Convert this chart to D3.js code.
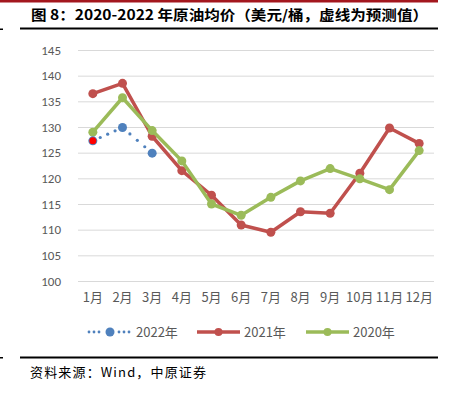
<!DOCTYPE html>
<html>
<head>
<meta charset="utf-8">
<script src="https://cdn.jsdelivr.net/npm/d3@7"></script>
<style>
  body { margin: 0; background: #fff; }
  svg { display: block; }
</style>
</head>
<body>
<div id="chart"></div>
<script>
// months on x axis
var months = ["1月", "2月", "3月", "4月", "5月", "6月", "7月", "8月", "9月", "10月", "11月", "12月"]
var yTicks = [100, 105, 110, 115, 120, 125, 130, 135, 140, 145]

// 2022 (forecast, dotted), 2021, 2020 average oil price
var y2022 = [127.3, 129.9, 124.9]
var y2021 = [136.5, 138.5, 128.2, 121.5, 116.7, 110.9, 109.5, 113.5, 113.2, 121.0, 129.8, 126.8]
var y2020 = [129.0, 135.7, 129.3, 123.4, 115.0, 112.8, 116.3, 119.5, 121.9, 119.9, 117.8, 125.4]

var seriesNames = ["2022年", "2021年", "2020年"]
var seriesColors = ["#4F81BD", "#C0504D", "#9BBB59"]

var width = 451, height = 397
var margin = {top: 50, right: 17, bottom: 116, left: 78}
var plotW = width - margin.left - margin.right,
    plotH = height - margin.top - margin.bottom

var svg = d3.select("#chart")
    .append("svg")
    .attr("width", width)
    .attr("height", height)

// frame decorations: red top band, title, rules
svg.append("rect")
    .attr("x", 0).attr("y", 0)
    .attr("width", 438).attr("height", 2.5)
    .attr("fill", "#A3171E")

svg.append("text")
    .attr("x", 31).attr("y", 20)
    .attr("font-family", "'Noto Sans CJK SC', sans-serif")
    .attr("font-weight", "bold")
    .attr("font-size", 14)
    .attr("fill", "#000")
    .attr("textLength", 397)
    .attr("lengthAdjust", "spacingAndGlyphs")
    .text("图 8：2020-2022 年原油均价（美元/桶，虚线为预测值）")

svg.append("rect").attr("x", 20).attr("y", 27.5).attr("width", 418).attr("height", 2).attr("fill", "#000")
svg.append("rect").attr("x", 0).attr("y", 28.5).attr("width", 3).attr("height", 1.5).attr("fill", "#000")
svg.append("rect").attr("x", 20).attr("y", 356.5).attr("width", 418).attr("height", 2).attr("fill", "#000")
svg.append("rect").attr("x", 0).attr("y", 357).attr("width", 3).attr("height", 1.5).attr("fill", "#000")

svg.append("text")
    .attr("x", 30).attr("y", 377)
    .attr("font-family", "'Noto Sans CJK SC', sans-serif")
    .attr("font-size", 13)
    .attr("fill", "#000")
    .attr("textLength", 176)
    .attr("lengthAdjust", "spacing")
    .text("资料来源：Wind，中原证券")

var g = svg.append("g")
    .attr("transform", "translate(" + margin.left + "," + margin.top + ")")

var x = d3.scaleBand()
    .domain(months)
    .range([0, plotW])

var y = d3.scaleLinear()
    .domain([100, 145])
    .range([231, 0])

function cx(i) { return x(months[i]) + x.bandwidth() / 2 }

// gridlines
g.append("g")
  .call(d3.axisLeft(y).tickValues(yTicks).tickSize(-plotW).tickFormat(""))
  .call(s => s.select(".domain").remove())
  .call(s => s.selectAll("line").attr("stroke", "#D9D9D9").attr("stroke-width", 1))

// y labels
g.append("g")
  .call(d3.axisLeft(y).tickValues(yTicks).tickSize(0).tickPadding(17))
  .call(s => s.select(".domain").remove())
  .call(s => s.selectAll("text")
      .attr("fill", "#595959")
      .attr("font-size", 13)
      .attr("font-family", "Carlito, 'Open Sans', sans-serif"))

// x labels
g.append("g")
  .attr("transform", "translate(0,231)")
  .call(d3.axisBottom(x).tickSize(0).tickPadding(12))
  .call(s => s.select(".domain").remove())
  .call(s => s.selectAll("text")
      .attr("fill", "#595959")
      .attr("font-size", 13)
      .attr("font-family", "'Noto Sans CJK SC', sans-serif"))

var line = d3.line()
    .x((d, i) => cx(i))
    .y(d => y(d))

function drawSeries(values, color, dashed, r) {
  if (dashed) {
    // dotted segments
    for (var i = 0; i < values.length - 1; i++) {
      var x0 = cx(i), y0 = y(values[i]), x1 = cx(i + 1), y1 = y(values[i + 1])
      var n = 4
      for (var k = 1; k < n; k++) {
        g.append("circle")
          .attr("cx", x0 + (x1 - x0) * k / n)
          .attr("cy", y0 + (y1 - y0) * k / n)
          .attr("r", 1.6)
          .attr("fill", color)
      }
    }
  } else {
    g.append("path")
      .datum(values)
      .attr("d", line)
      .attr("fill", "none")
      .attr("stroke", color)
      .attr("stroke-width", 3.5)
      .attr("stroke-linejoin", "round")
  }
  g.append("g").selectAll("circle")
    .data(values)
    .enter()
    .append("circle")
      .attr("cx", (d, i) => cx(i))
      .attr("cy", d => y(d))
      .attr("r", r)
      .attr("fill", color)
}

drawSeries(y2021, seriesColors[1], false, 4.5)
drawSeries(y2020, seriesColors[2], false, 4.5)
drawSeries(y2022, seriesColors[0], true, 4.5)

// first 2022 point highlighted in red
g.append("circle")
  .attr("cx", cx(0))
  .attr("cy", y(y2022[0]))
  .attr("r", 3.5)
  .attr("fill", "#FF0000")

// legend
var legend = svg.append("g").attr("transform", "translate(0,332)")
var legendX = [88, 197, 306]
seriesNames.forEach(function(name, i) {
  var lg = legend.append("g").attr("transform", "translate(" + legendX[i] + ",0)")
  if (i == 0) {
    [0, 5, 10, 30, 35, 40].forEach(function(dx) {
      lg.append("circle").attr("cx", dx + 1).attr("cy", 0).attr("r", 1.4).attr("fill", seriesColors[i])
    })
  } else {
    lg.append("line").attr("x1", 0).attr("x2", 43).attr("y1", 0).attr("y2", 0)
      .attr("stroke", seriesColors[i]).attr("stroke-width", 3.5)
  }
  lg.append("circle").attr("cx", i == 0 ? 22 : 21.5).attr("cy", 0).attr("r", i == 0 ? 4.5 : 4).attr("fill", seriesColors[i])
  lg.append("text")
    .attr("x", i == 0 ? 48 : 47).attr("y", 4.5)
    .attr("fill", "#595959")
    .attr("font-size", 13)
    .attr("font-family", "'Noto Sans CJK SC', sans-serif")
    .text(name)
})
</script>
</body>
</html>
